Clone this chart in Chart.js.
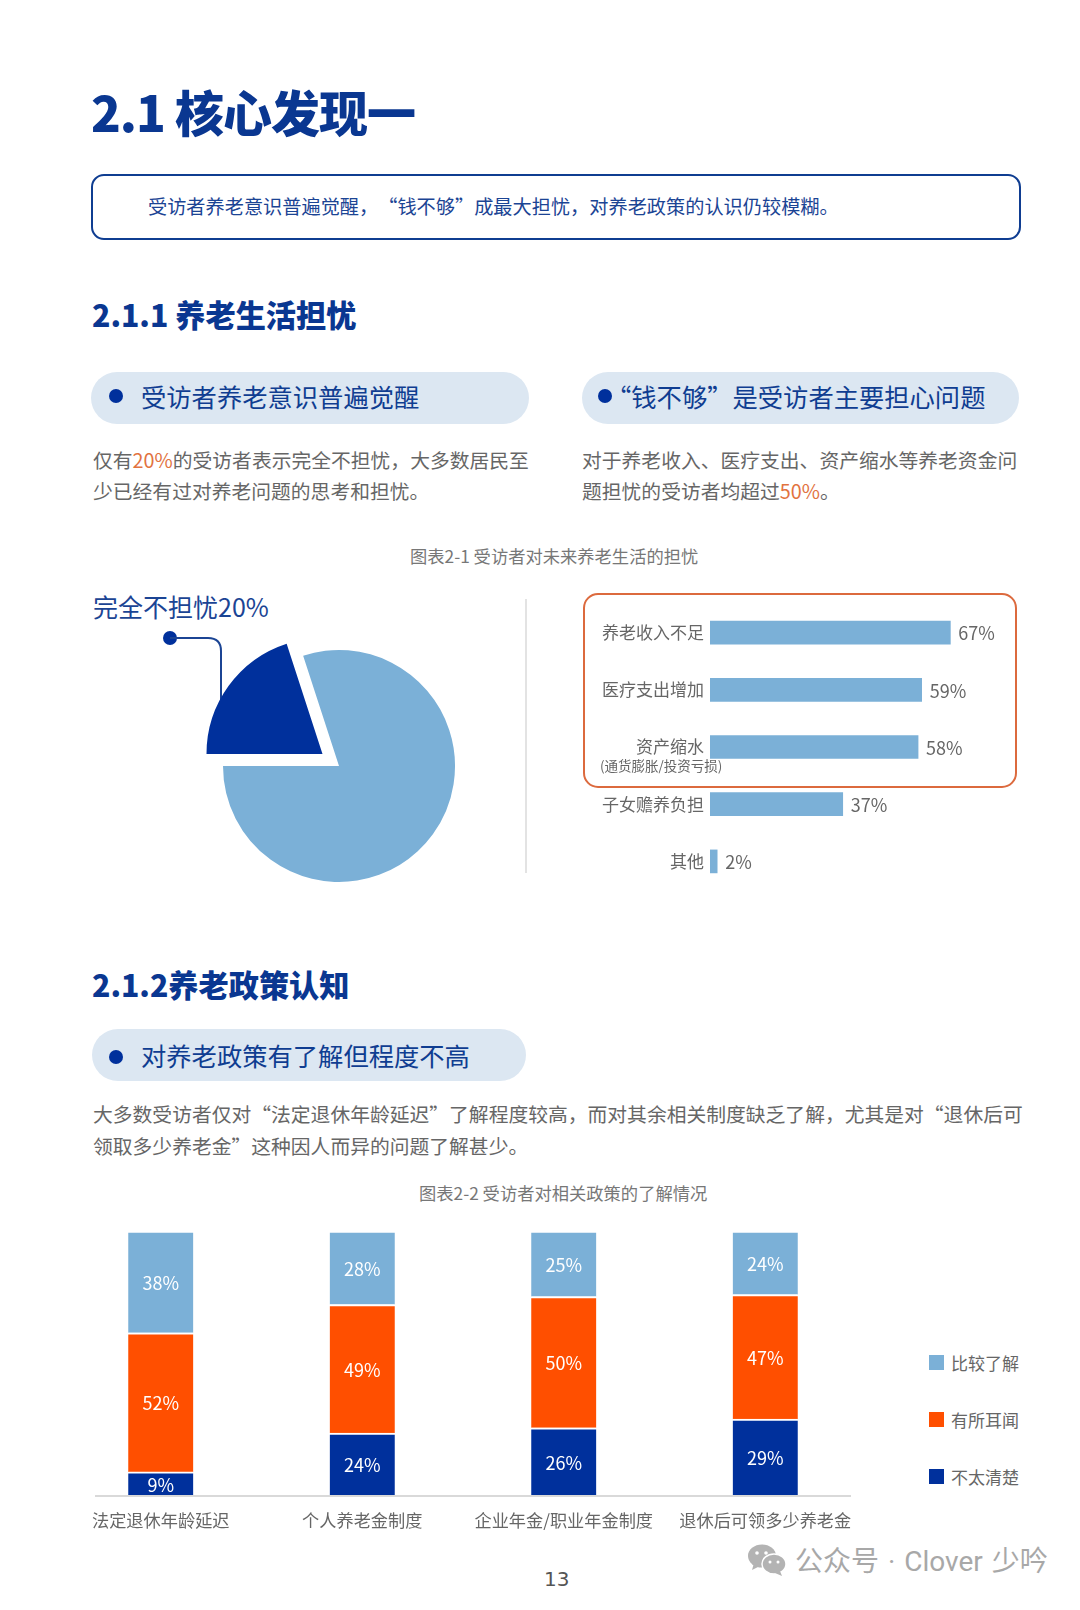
<!DOCTYPE html>
<html lang="zh-CN">
<head>
<meta charset="utf-8">
<title>2.1 核心发现一</title>
<script src="https://cdn.jsdelivr.net/npm/chart.js@4"></script>
<style>
    html, body { margin: 0; padding: 0; background: #fff; }
    body { position: relative; width: 1080px; height: 1610px; overflow: hidden; font-family: "Noto Sans CJK SC", "Noto Sans", sans-serif; text-spacing-trim: space-all; }
    .abs { position: absolute; white-space: nowrap; }
    h1, h2 { margin: 0; font-weight: 900; color: #0a3791; position: absolute; white-space: nowrap; }
    h1 { left: 91px; top: 73px; font-size: 49px; line-height: 76px; letter-spacing: -1px; }
    h2 { left: 92px; font-size: 30.2px; line-height: 44px; }
    .box { position: absolute; box-sizing: border-box; left: 91px; top: 174px; width: 930px; height: 66px; border: 2px solid #0f3d91; border-radius: 13px; }
    .pill { position: absolute; background: #dce7f2; border-radius: 26px; height: 52px; }
    .dot { position: absolute; width: 14px; height: 14px; border-radius: 50%; background: #00309c; }
    .pill-text { font-size: 25.3px; line-height: 36px; color: #0f3d91; }
    .para { font-size: 19.8px; color: #666; }
    .para b { font-weight: 400; color: #e2733f; }
    .caption { font-size: 17.3px; line-height: 26px; color: #777; }
    canvas { position: absolute; }
    .legend-row { position: absolute; left: 929px; height: 24px; display: flex; align-items: center; font-size: 17px; color: #666; }
    .legend-row i { display: block; width: 15px; height: 15px; margin-right: 7px; }
</style>
</head>
<body>
<h1>2.1 核心发现一</h1>
<div class="box"></div>
<div class="abs" style="left:148px;top:192px;font-size:19.2px;line-height:28px;color:#1b4494">受访者养老意识普遍觉醒，“钱不够”成最大担忧，对养老政策的认识仍较模糊。</div>

<h2 style="top:292px">2.1.1 养老生活担忧</h2>
<div class="pill" style="left:91px;top:372px;width:438px"></div>
<div class="dot" style="left:109px;top:389px"></div>
<div class="abs pill-text" style="left:141px;top:378px">受访者养老意识普遍觉醒</div>
<div class="pill" style="left:582px;top:372px;width:437px"></div>
<div class="dot" style="left:598px;top:389px"></div>
<div class="abs pill-text" style="left:606px;top:378px">“钱不够”是受访者主要担心问题</div>

<div class="abs para" style="left:93px;top:445px;line-height:30.5px">仅有<b>20%</b>的受访者表示完全不担忧，大多数居民至<br>少已经有过对养老问题的思考和担忧。</div>
<div class="abs para" style="left:582px;top:445px;line-height:30.5px">对于养老收入、医疗支出、资产缩水等养老资金问<br>题担忧的受访者均超过<b>50%</b>。</div>

<div class="abs caption" style="left:410px;top:543px">图表2-1 受访者对未来养老生活的担忧</div>

<!-- left pie -->
<div class="abs" style="left:93px;top:588px;font-size:25px;line-height:36px;color:#1b4494">完全不担忧20%</div>
<svg class="abs" style="left:150px;top:625px" width="90" height="90">
    <circle cx="20" cy="13" r="7" fill="#00309c"/>
    <path d="M20 13 H58 Q71 13 71 26 V85" fill="none" stroke="#1b4494" stroke-width="2"/>
</svg>
<canvas id="chart-pie" width="320" height="320" style="left:179px;top:606px"></canvas>

<div class="abs" style="left:525px;top:599px;width:2px;height:274px;background:#e3e3e3"></div>

<!-- right bars -->
<div class="abs" style="left:583px;top:593px;width:434px;height:195px;box-sizing:border-box;border:2px solid #dc6a3e;border-radius:15px"></div>
<canvas id="chart-worry" width="437" height="286" style="left:590px;top:604px"></canvas>
<div class="abs" style="left:600px;top:756px;font-size:13.5px;line-height:18px;color:#666">(通货膨胀/投资亏损)</div>

<h2 style="top:962px">2.1.2养老政策认知</h2>
<div class="pill" style="left:92px;top:1029px;width:434px"></div>
<div class="dot" style="left:109px;top:1050px"></div>
<div class="abs pill-text" style="left:141px;top:1037px">对养老政策有了解但程度不高</div>

<div class="abs para" style="left:93px;top:1098px;line-height:32px">大多数受访者仅对“法定退休年龄延迟”了解程度较高，而对其余相关制度缺乏了解，尤其是对“退休后可<br>领取多少养老金”这种因人而异的问题了解甚少。</div>
<div class="abs caption" style="left:419px;top:1180px">图表2-2 受访者对相关政策的了解情况</div>

<canvas id="chart-policy" width="806" height="299" style="left:60px;top:1231px"></canvas>
<div class="abs" style="left:95px;top:1495px;width:756px;height:2px;background:#d9d9d9"></div>
<div id="policy-legend"></div>

<div class="abs" style="left:544px;top:1565px;font-size:20px;line-height:28px;color:#555;font-family:'DejaVu Sans'">13</div>

<!-- watermark -->
<svg class="abs" style="left:747px;top:1544px" width="40" height="32" viewBox="0 0 40 32">
    <ellipse cx="15" cy="12" rx="14" ry="11.5" fill="#b3b3b3"/>
    <path d="M7 19 L5 26 L13 22 Z" fill="#b3b3b3"/>
    <ellipse cx="27" cy="20" rx="12" ry="10" fill="#b3b3b3" stroke="#fff" stroke-width="1.5"/>
    <path d="M33 27 L35 32 L28 29 Z" fill="#b3b3b3"/>
    <circle cx="10" cy="9" r="1.8" fill="#fff"/><circle cx="19" cy="9" r="1.8" fill="#fff"/>
    <circle cx="23" cy="18" r="1.5" fill="#fff"/><circle cx="31" cy="18" r="1.5" fill="#fff"/>
</svg>
<div class="abs" style="left:795px;top:1543px;font-family:Roboto,'Noto Sans CJK SC';font-size:28px;line-height:38px;word-spacing:2px;color:#a8a8a8">公众号 · Clover 少吟</div>

<script>
// 图表2-1 左侧饼图
const pieLabels = ['完全不担忧', '其他'];
const pieValues = [20, 80];

// 图表2-1 右侧条形图
const worryLabels = ['养老收入不足', '医疗支出增加', '资产缩水', '子女赡养负担', '其他'];
const worryValues = [67, 59, 58, 37, 2];

// 图表2-2 堆叠柱状图
const policyLabels = ['法定退休年龄延迟', '个人养老金制度', '企业年金/职业年金制度', '退休后可领多少养老金'];
const seriesUnclear = [9, 24, 26, 29];
const seriesHeard = [52, 49, 50, 47];
const seriesKnown = [38, 28, 25, 24];

const LIGHT_BLUE = '#7bb0d7';
const ORANGE = '#ff4f00';
const NAVY = '#00309c';
const FONT_FAMILY = '"Noto Sans CJK SC", "Noto Sans", sans-serif';

Chart.defaults.font.family = FONT_FAMILY;
Chart.defaults.animation = false;
Chart.defaults.responsive = false;
Chart.defaults.plugins.legend.display = false;
Chart.defaults.plugins.tooltip.enabled = false;

// Chart.js 的 offset 会放大扇形半径，这里直接把 20% 扇形整体平移
const explodePlugin = {
    id: 'explodeSlice',
    afterDatasetsUpdate(chart) {
        const slice = chart.getDatasetMeta(0).data[0];
        slice.x -= 16.5;
        slice.y -= 12;
    }
};

new Chart(document.getElementById('chart-pie'), {
    type: 'pie',
    data: {
        labels: pieLabels,
        datasets: [{
            data: pieValues,
            backgroundColor: [NAVY, LIGHT_BLUE],
            borderWidth: 0
        }]
    },
    options: { rotation: -90, radius: 116 },
    plugins: [explodePlugin]
});

// 条形末端的百分比
const worryLabelPlugin = {
    id: 'worryLabels',
    afterDatasetsDraw(chart) {
        const ctx = chart.ctx;
        ctx.save();
        ctx.font = '18px ' + FONT_FAMILY;
        ctx.fillStyle = '#666';
        ctx.textBaseline = 'middle';
        chart.getDatasetMeta(0).data.forEach((bar, i) => {
            ctx.fillText(worryValues[i] + '%', bar.x + 8, bar.y + 1);
        });
        ctx.restore();
    }
};

new Chart(document.getElementById('chart-worry'), {
    type: 'bar',
    data: {
        labels: worryLabels,
        datasets: [{ data: worryValues, backgroundColor: LIGHT_BLUE, barThickness: 23 }]
    },
    options: {
        indexAxis: 'y',
        layout: { padding: { right: 30 } },
        scales: {
            x: { display: false, min: 0, max: 80 },
            y: {
                afterFit: (scale) => {
                    scale.width = 120;
                    scale.paddingTop = 0;
                    scale.paddingBottom = 0;
                },
                border: { display: false },
                grid: { display: false, drawTicks: false },
                ticks: { color: '#666', font: { size: 17 }, padding: 6 }
            }
        }
    },
    plugins: [worryLabelPlugin]
});

// 原图各柱等高，按百分比堆叠
const policyTotals = policyLabels.map((_, i) => seriesUnclear[i] + seriesHeard[i] + seriesKnown[i]);
const toShare = (values) => values.map((v, i) => v / policyTotals[i] * 100);
const policySeries = [
    { label: '不太清楚', values: seriesUnclear, color: NAVY },
    { label: '有所耳闻', values: seriesHeard, color: ORANGE },
    { label: '比较了解', values: seriesKnown, color: LIGHT_BLUE }
];

// 柱内百分比
const policyLabelPlugin = {
    id: 'policyLabels',
    afterDatasetsDraw(chart) {
        const ctx = chart.ctx;
        ctx.save();
        ctx.font = '18px ' + FONT_FAMILY;
        ctx.fillStyle = '#fff';
        ctx.textAlign = 'center';
        ctx.textBaseline = 'middle';
        policySeries.forEach((s, d) => {
            chart.getDatasetMeta(d).data.forEach((bar, i) => {
                ctx.fillText(s.values[i] + '%', bar.x, (bar.y + bar.base) / 2 + 1);
            });
        });
        ctx.restore();
    }
};

new Chart(document.getElementById('chart-policy'), {
    type: 'bar',
    data: {
        labels: policyLabels,
        datasets: policySeries.map(s => ({
            label: s.label,
            data: toShare(s.values),
            backgroundColor: s.color,
            borderColor: '#fff',
            borderWidth: { top: 2 },
            borderSkipped: false,
            barThickness: 65
        }))
    },
    options: {
        scales: {
            x: {
                stacked: true,
                afterFit: (scale) => { scale.height = 34; },
                border: { display: false },
                grid: { display: false, drawTicks: false },
                ticks: { color: '#666', font: { size: 17.2 }, padding: 14, autoSkip: false, maxRotation: 0 }
            },
            y: { stacked: true, display: false, min: 0, max: 100 }
        }
    },
    plugins: [policyLabelPlugin]
});

// 图例
const legendTops = [1350, 1407, 1464];
const legendEl = document.getElementById('policy-legend');
policySeries.slice().reverse().forEach((s, i) => {
    const row = document.createElement('div');
    row.className = 'legend-row';
    row.style.top = legendTops[i] + 'px';
    row.innerHTML = `<i style="background:${s.color}"></i>${s.label}`;
    legendEl.appendChild(row);
});
</script>
</body>
</html>
